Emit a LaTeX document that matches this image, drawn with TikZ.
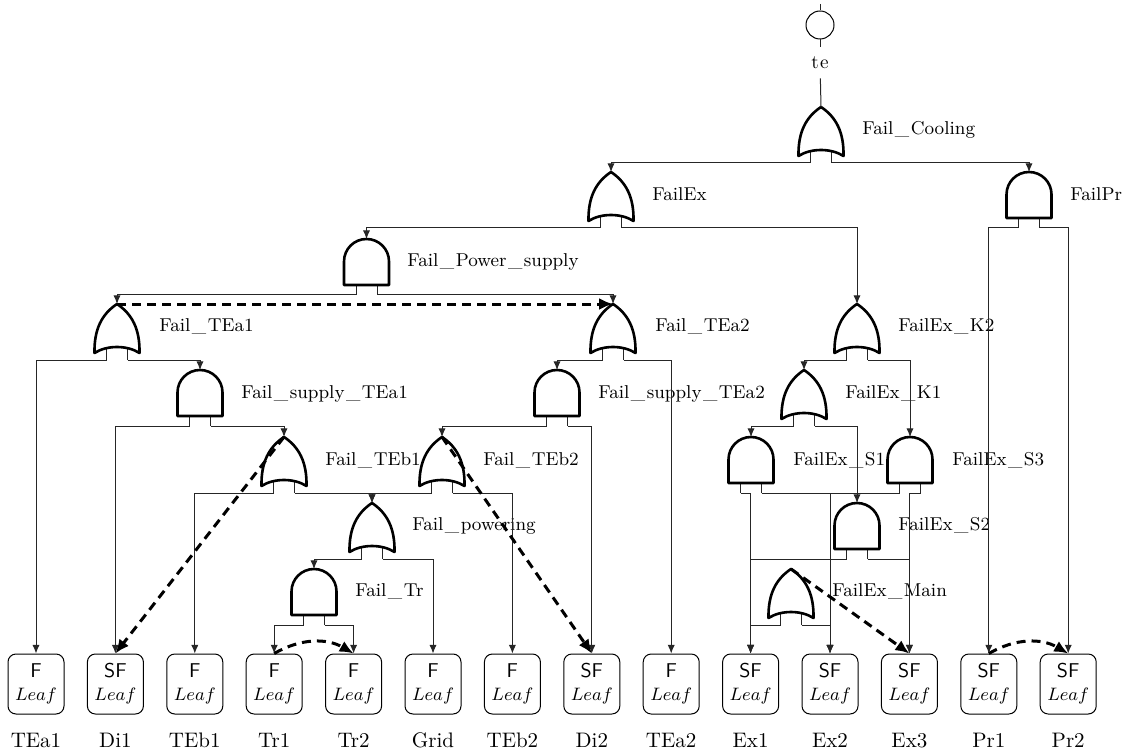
\documentclass[tikz,border=0pt]{standalone}
\usetikzlibrary{arrows.meta}
\newcommand{\us}{\kern.08em\_\kern.08em}
\tikzset{
  gateline/.style={line width=1.3pt, line join=round, fill=white},
  wire/.style={line width=0.5pt, draw=black!85},
  arr/.style={wire, -{Latex[length=4.3pt,width=3.6pt]}},
  dep/.style={line width=1.5pt, dash pattern=on 4.5pt off 3pt, -{Latex[length=7pt,width=6pt]}},
  glabel/.style={anchor=base west, font=\fontsize{9.3}{11}\selectfont, inner sep=0},
  leafbox/.style={draw, rounded corners=4pt, minimum width=28pt, minimum height=30pt, line width=0.5pt, align=center, inner sep=0, font=\fontsize{10}{11.5}\selectfont},
  lname/.style={anchor=base, font=\fontsize{10.5}{12}\selectfont, inner sep=0},
  orgate/.pic={
    \draw[wire] (-10.5,42) -- (-10.5,56) coordinate (-l);
    \draw[wire] (10.5,42) -- (10.5,56) coordinate (-r);
    \draw[gateline] (0,0) .. controls (-15,10) and (-23,25) .. (-22.5,49)
      .. controls (-10,41) and (10,41) .. (22.5,49)
      .. controls (23,25) and (15,10) .. (0,0) -- cycle;
    \coordinate (-apex) at (0,0);
  },
  andgate/.pic={
    \draw[wire] (-10.5,44) -- (-10.5,56) coordinate (-l);
    \draw[wire] (10.5,44) -- (10.5,56) coordinate (-r);
    \draw[gateline] (-22.5,46) -- (-22.5,22.5) .. controls (-22.5,10) and (-12.4,0) .. (0,0)
      .. controls (12.4,0) and (22.5,10) .. (22.5,22.5) -- (22.5,46) -- cycle;
    \coordinate (-apex) at (0,0);
  }
}
\newcommand{\mkleaf}[4]{%
  \node[leafbox] (#1) at (#2,684) {{\sffamily #3}\\{\fontsize{8.8}{10}\selectfont$Leaf$}};
  \node[lname] (#1-name) at (#2,747) {#4};}
\begin{document}
\begin{tikzpicture}[x=0.5pt,y=-0.5pt]
\useasboundingbox (0,0) rectangle (1122,753);

% top event
\coordinate (tetop) at (820,4);
\node[draw, circle, minimum size=14pt, inner sep=0, line width=0.5pt] (top) at (820,25) {};
\node[font=\fontsize{9.6}{11}\selectfont, minimum height=15.5pt, inner sep=0] (te) at (820,62.5) {t\kern.06em e};

% gates
\pic (cool)   at (821,107) {orgate};
\pic (failex) at (611,172) {orgate};
\pic (failpr) at (1029,172) {andgate};
\pic (pws)    at (366.5,239) {andgate};
\pic (tea1)   at (117,304) {orgate};
\pic (tea2)   at (613,304) {orgate};
\pic (k2)     at (857,304) {orgate};
\pic (stea1)  at (200,370) {andgate};
\pic (stea2)  at (557,370) {andgate};
\pic (k1)     at (804,370) {orgate};
\pic (teb1)   at (284,437) {orgate};
\pic (teb2)   at (442,437) {orgate};
\pic (s1)     at (751,437) {andgate};
\pic (s3)     at (910,437) {andgate};
\pic (pow)    at (372,503) {orgate};
\pic (s2)     at (857,503) {andgate};
\pic (tr)     at (314,569) {andgate};
\pic (main)   at (791,569) {orgate};

% gate labels
\node[glabel] (lcool)   at (862,135) {Fail\us Cooling};
\node[glabel] (lfailex) at (652,201) {FailEx};
\node[glabel] (lfailpr) at (1070,201) {FailPr};
\node[glabel] (lpws)    at (407,267) {Fail\us Power\us supply};
\node[glabel] (ltea1)   at (159,331) {Fail\us TEa1};
\node[glabel] (ltea2)   at (655,331) {Fail\us TEa2};
\node[glabel] (lk2)     at (898,331) {FailEx\us K2};
\node[glabel] (lstea1)  at (241,398) {Fail\us supply\us TEa1};
\node[glabel] (lstea2)  at (598,398) {Fail\us supply\us TEa2};
\node[glabel] (lk1)     at (845,398) {FailEx\us K1};
\node[glabel] (lteb1)   at (325,465) {Fail\us TEb1};
\node[glabel] (lteb2)   at (483,465) {Fail\us TEb2};
\node[glabel] (ls1)     at (793,465) {FailEx\us S1};
\node[glabel] (ls3)     at (952,465) {FailEx\us S3};
\node[glabel] (lpow)    at (412,530) {Fail\us powering};
\node[glabel] (ls2)     at (898,530) {FailEx\us S2};
\node[glabel] (ltr)     at (355,596) {Fail\us Tr};
\node[glabel] (lmain)   at (832,596) {FailEx\us Main};

% leaves
\mkleaf{TEa1}{36}{F}{TEa1}
\mkleaf{Di1}{115.4}{SF}{Di1}
\mkleaf{TEb1}{194.8}{F}{TEb1}
\mkleaf{Tr1}{274.2}{F}{Tr1}
\mkleaf{Tr2}{353.6}{F}{Tr2}
\mkleaf{Grid}{433}{F}{Grid}
\mkleaf{TEb2}{512.4}{F}{TEb2}
\mkleaf{Di2}{591.8}{SF}{Di2}
\mkleaf{TEa2}{671.2}{F}{TEa2}
\mkleaf{Ex1}{750.6}{SF}{Ex1}
\mkleaf{Ex2}{830}{SF}{Ex2}
\mkleaf{Ex3}{909.4}{SF}{Ex3}
\mkleaf{Pr1}{988.8}{SF}{Pr1}
\mkleaf{Pr2}{1068.2}{SF}{Pr2}

% top event wires
\draw[wire] (tetop) -- (top);
\draw[wire] (top) -- (te);
\draw[wire] (te) -- (cool-apex);

% gate connectors
\draw[arr] (cool-l) -| (failex-apex);
\draw[arr] (cool-r) -| (failpr-apex);
\draw[arr] (failex-l) -| (pws-apex);
\draw[arr] (failex-r) -| (k2-apex);
\draw[arr] (failpr-l) -| (Pr1.north);
\draw[arr] (failpr-r) -| (Pr2.north);
\draw[arr] (pws-l) -| (tea1-apex);
\draw[arr] (pws-r) -| (tea2-apex);
\draw[arr] (tea1-l) -| (TEa1.north);
\draw[arr] (tea1-r) -| (stea1-apex);
\draw[arr] (tea2-l) -| (stea2-apex);
\draw[arr] (tea2-r) -| (TEa2.north);
\draw[arr] (stea1-l) -| (Di1.north);
\draw[arr] (stea1-r) -| (teb1-apex);
\draw[arr] (stea2-l) -| (teb2-apex);
\draw[arr] (stea2-r) -| (Di2.north);
\draw[arr] (teb1-l) -| (TEb1.north);
\draw[arr] (teb1-r) -| (pow-apex);
\draw[arr] (teb2-l) -| (pow-apex);
\draw[arr] (teb2-r) -| (TEb2.north);
\draw[arr] (pow-l) -| (tr-apex);
\draw[arr] (pow-r) -| (Grid.north);
\draw[arr] (tr-l) -| (Tr1.north);
\draw[arr] (tr-r) -| (Tr2.north);
\draw[arr] (k2-l) -| (k1-apex);
\draw[arr] (k2-r) -| (s3-apex);
\draw[arr] (k1-l) -| (s1-apex);
\draw[arr] (k1-r) -| (s2-apex);
\draw[arr] (s1-l) -| (Ex1.north);
\draw[arr] (s1-r) -| (Ex2.north);
\draw[arr] (s3-l) -| (Ex2.north);
\draw[arr] (s3-r) -| (Ex3.north);
\draw[arr] (s2-l) -| (Ex1.north);
\draw[arr] (s2-r) -| (Ex3.north);
\draw[arr] (main-l) -| (Ex1.north);
\draw[arr] (main-r) -| (Ex2.north);

% dependency arrows
\draw[dep] (tea1-apex) -- (tea2-apex);
\draw[dep] (teb1-apex) -- (Di1.north);
\draw[dep] (teb2-apex) -- (Di2.north);
\draw[dep] (main-apex) -- (Ex3.north);
\draw[dep] (Tr1.north) to[bend left=30] (Tr2.north);
\draw[dep] (Pr1.north) to[bend left=30] (Pr2.north);
\end{tikzpicture}
\end{document}
